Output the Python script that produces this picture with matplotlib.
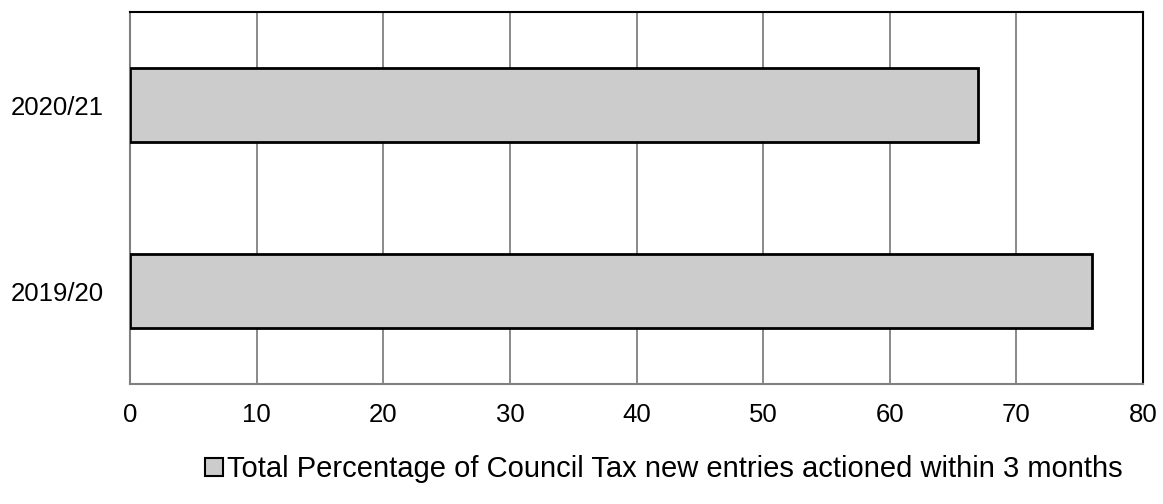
import matplotlib.pyplot as plt
from matplotlib.patches import Patch

plt.rcParams['font.family'] = ['Liberation Sans', 'DejaVu Sans']

# Data
years = ['2019/20', '2020/21']
values = [76, 67]
series_name = 'Total Percentage of Council Tax new entries actioned within 3 months'
x_ticks = [0, 10, 20, 30, 40, 50, 60, 70, 80]

fig = plt.figure(figsize=(11.63, 5.04), dpi=100)
ax = fig.add_axes([0.1118, 0.238, 0.871, 0.738])

pos = list(range(len(years)))
ax.barh(pos, values, height=0.4, color='#cccccc', edgecolor='black', linewidth=2, zorder=3)

ax.set_xlim(0, 80)
ax.set_ylim(-0.5, 1.5)
ax.set_xticks(x_ticks)
ax.set_yticks(pos)
ax.set_yticklabels(years)
ax.tick_params(axis='both', length=0, labelsize=18.5)
ax.tick_params(axis='y', pad=19)
ax.tick_params(axis='x', pad=14)
ax.grid(axis='x', color='#808080', linewidth=1.3, zorder=0)

for side in ['left', 'bottom']:
    ax.spines[side].set_color('#808080')
    ax.spines[side].set_linewidth(1.5)
for side in ['top', 'right']:
    ax.spines[side].set_color('black')
    ax.spines[side].set_linewidth(1.5)

handle = Patch(facecolor='#cccccc', edgecolor='black', linewidth=1.5)
fig.legend([handle], [series_name], loc='center', bbox_to_anchor=(0.571, 0.069),
           frameon=False, fontsize=21, handlelength=0.6, handleheight=0.6,
           handletextpad=0.15, borderaxespad=0)

fig.savefig('out.png', dpi=100)
